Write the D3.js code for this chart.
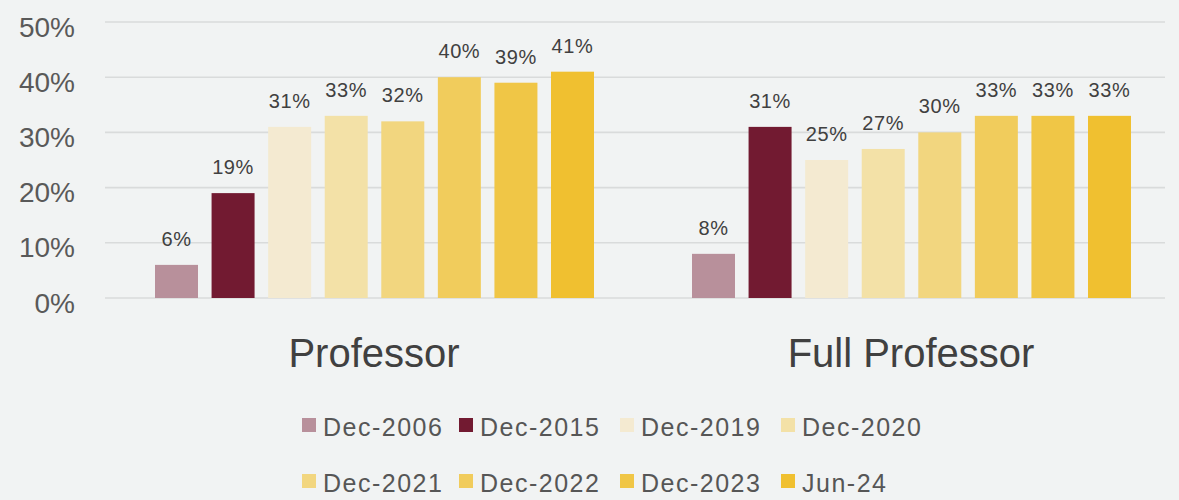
<!DOCTYPE html>
<html>
<head>
<meta charset="utf-8">
<script src="https://cdn.jsdelivr.net/npm/d3@7"></script>
<style>
  html, body { margin: 0; padding: 0; background: #f1f3f3; }
  svg { display: block; font-family: "Liberation Sans", Arial, sans-serif; }
</style>
</head>
<body>
<svg id="chart" width="1179" height="500"></svg>
<script>
const groups = ["Professor", "Full Professor"];
const seriesNames = ["Dec-2006", "Dec-2015", "Dec-2019", "Dec-2020", "Dec-2021", "Dec-2022", "Dec-2023", "Jun-24"];
const professorValues = [6, 19, 31, 33, 32, 40, 39, 41];
const fullProfessorValues = [8, 31, 25, 27, 30, 33, 33, 33];
const seriesColors = ["#b8909b", "#721a31", "#f4ead1", "#f3e1a7", "#f2d67f", "#f1cc5c", "#f0c646", "#f0c030"];
const yTicks = [0, 10, 20, 30, 40, 50];

const valuesByGroup = [professorValues, fullProfessorValues];

const svg = d3.select("#chart");

const y = d3.scaleLinear().domain([0, 50]).range([298, 22]);
const x0 = d3.scaleBand().domain(groups).range([106, 1180]).padding(0);
const x1 = d3.scaleBand().domain(seriesNames).range([49, 488]).paddingInner(0.24).paddingOuter(0);
const color = d3.scaleOrdinal().domain(seriesNames).range(seriesColors);

// gridlines
svg.append("g")
  .selectAll("line")
  .data(yTicks)
  .join("line")
  .attr("x1", 105).attr("x2", 1165)
  .attr("y1", d => y(d)).attr("y2", d => y(d))
  .attr("stroke", "#d9dbdb")
  .attr("stroke-width", 1.6);

// y axis labels
const yAxis = d3.axisLeft(y).tickValues(yTicks).tickFormat(d => d + "%").tickSize(0).tickPadding(0);
const yg = svg.append("g").attr("transform", "translate(75,0)").call(yAxis);
yg.select(".domain").remove();
yg.selectAll("text")
  .attr("font-size", 28)
  .attr("fill", "#595959")
  .attr("font-family", "Liberation Sans, Arial, sans-serif")
  .attr("dy", "0.36em")
  .attr("y", 4);

// bars
const gGroups = svg.append("g")
  .selectAll("g")
  .data(groups.map((g, i) => ({ group: g, values: valuesByGroup[i] })))
  .join("g")
  .attr("transform", d => `translate(${x0(d.group)},0)`);

gGroups.selectAll("rect")
  .data(d => d.values.map((v, i) => ({ name: seriesNames[i], value: v })))
  .join("rect")
  .attr("x", d => x1(d.name))
  .attr("width", x1.bandwidth())
  .attr("y", d => y(d.value))
  .attr("height", d => y(0) - y(d.value))
  .attr("fill", d => color(d.name));

gGroups.selectAll("text.val")
  .data(d => d.values.map((v, i) => ({ name: seriesNames[i], value: v })))
  .join("text")
  .attr("class", "val")
  .attr("x", d => x1(d.name) + x1.bandwidth() / 2)
  .attr("y", d => y(d.value) - 19)
  .attr("text-anchor", "middle")
  .attr("font-size", 20)
  .attr("letter-spacing", 0.6)
  .attr("fill", "#404040")
  .text(d => d.value + "%");

// category labels
svg.append("g")
  .selectAll("text")
  .data(groups)
  .join("text")
  .attr("x", d => x0(d) + x0.bandwidth() / 2 - 0.5)
  .attr("y", 367)
  .attr("text-anchor", "middle")
  .attr("font-size", 40)
  .attr("fill", "#404040")
  .text(d => d);

// legend
const legendCols = [302, 459, 620, 781];
const legend = svg.append("g");
const items = legend.selectAll("g")
  .data(seriesNames)
  .join("g")
  .attr("transform", (d, i) => `translate(${legendCols[i % 4]},${i < 4 ? 418 : 474})`);
items.append("rect")
  .attr("width", 14).attr("height", 14)
  .attr("fill", d => color(d));
items.append("text")
  .attr("x", 21)
  .attr("y", 18)
  .attr("font-size", 25)
  .attr("letter-spacing", 1.5)
  .attr("fill", "#565656")
  .text(d => d);
</script>
</body>
</html>
